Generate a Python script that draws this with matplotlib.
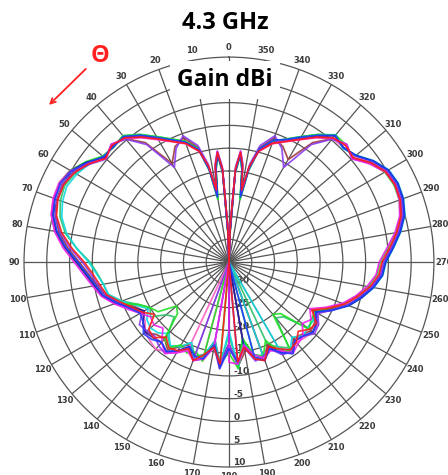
import numpy as np
import matplotlib.pyplot as plt
from matplotlib.lines import Line2D
from matplotlib.patches import FancyArrowPatch

# angles in degrees (0 at top, counter-clockwise)
angles = [0, 2, 4, 6, 8, 10, 12,
          15, 20, 25, 30, 35, 40, 45, 50, 55,
          60, 65, 70, 75, 80, 85, 90, 95, 100,
          105, 110, 115, 120, 125, 130, 135, 140, 145, 150,
          155, 160, 165, 170, 175, 180, 185, 190, 195, 200, 205,
          210, 215, 220, 225, 230, 235, 240, 245, 250, 255,
          260, 265, 270, 275, 280, 285, 290, 295, 300,
          305, 310, 315, 320, 325, 330, 335, 340, 345,
          348, 350, 352, 354, 356, 358, 360]

# gain (dBi), one list per measured curve
red = [-38, -27, -14.5, -10.8, -13.5, -19, -13.5,
       -9.8, -7.3, -5.8, -3.8, -1.5, 0.6, 1.3, 0.4, 2.6,
       4.2, 5.1, 5.0, 4.2, 2.3, -0.4, -3.2, -5, -6.2,
       -7.2, -9.5, -11.5, -13, -15, -12, -11.5, -13.5, -12, -12.5,
       -14, -12, -14, -16, -12.5, -38, -13, -16, -13, -12, -14.5,
       -13, -11.5, -12, -13.5, -12, -11.5, -14, -11, -8, -5.8,
       -3.6, -2, -1.4, 0.4, 2.4, 4.1, 5, 5.2, 4.7,
       3, 0.6, 1.2, 0.6, -1.5, -3.9, -5.8, -7.3, -9.8,
       -13.5, -19, -13.5, -10.8, -14.5, -27, -38]
green = [-38, -29, -15.5, -11.3, -14.5, -21, -14.5,
         -9.2, -6.8, -5.2, -3.2, -0.8, 1.2, 0.7, 1.2, 3.4,
         5.2, 6.0, 5.8, 5.2, 3.6, 1.2, -1.4, -3.5, -5,
         -6.2, -8.5, -13, -15, -16, -20, -19, -13, -12, -14,
         -13, -14, -12.5, -38, -13, -15, -11.5, -18, -14, -13, -16,
         -12, -11.5, -20, -19, -12, -13, -13, -11, -8.2, -6,
         -4, -2.4, -1.8, 0, 2.1, 3.9, 4.8, 5, 4.5,
         2.8, 0.4, 1.4, 1.4, -0.8, -3.2, -5.2, -6.8, -9.2,
         -14.5, -21, -14.5, -11.3, -15.5, -29, -38]
blue = [-38, -28.5, -15, -11.2, -14.2, -20.5, -14.2,
        -9.5, -7, -5.4, -3.4, -1.0, 1.0, 0.8, 1.0, 3.0,
        4.9, 5.8, 5.6, 4.9, 3.3, 0.9, -1.8, -3.8, -5.3,
        -6.5, -8.8, -11, -12.5, -12, -10.5, -11, -12, -11, -12.5,
        -14.5, -13, -13, -16.5, -11.5, -16, -13, -38, -13.5, -12, -14,
        -12, -10.5, -12.5, -12, -11, -11.5, -13, -10, -7.2, -5,
        -2.9, -1.3, -0.7, 1.1, 3.1, 4.8, 5.6, 5.8, 5.3,
        3.6, 1.3, 0.5, 1.3, -1.0, -3.3, -5.3, -6.5, -9.3,
        -14, -20.5, -14.2, -11.2, -15, -28.5, -38]
magenta = [-38, -27.5, -14.8, -10.6, -13.8, -19.5, -13.8,
           -9.7, -7.2, -5.7, -3.9, -1.6, 0.5, 1.5, 0.3, 2.8,
           5.0, 6.0, 6.0, 5.4, 3.9, 1.6, -1.0, -3.0, -4.6,
           -6, -8.2, -10.5, -12.5, -14, -13.5, -14.5, -12, -10.5, -12,
           -13.5, -12, -13, -16, -38, -13, -12.5, -16.5, -14, -12.5, -13.5,
           -12.5, -10.5, -11.5, -12, -14, -13, -14.5, -11.5, -8.5, -6.2,
           -4.2, -2.6, -2, -0.2, 2, 3.8, 4.8, 5.2, 4.6,
           2.6, 0.3, 1.5, 0.5, -1.6, -3.9, -5.7, -7.2, -9.7,
           -13.8, -19.5, -13.8, -10.6, -14.8, -27.5, -38]
cyan = [-38, -28, -15.2, -11.4, -14.4, -20.5, -14.4,
        -9.4, -6.9, -5.3, -3.3, -0.9, 1.1, 0.9, 0.9, 2.5,
        3.6, 4.3, 3.9, 3.0, 1.2, -1.5, -4.2, -5.8, -7.0,
        -7.6, -9.8, -12.5, -14.5, -13, -12.5, -13, -14.5, -12.5, -13.5,
        -15.5, -12.5, -14, -17.5, -12, -20, -11.5, -17, -13, -13.5, -38,
        -13, -11.5, -13.5, -12, -12.5, -12.5, -13, -10, -7, -4.8,
        -2.7, -1.1, -0.5, 1.3, 3.3, 5, 5.8, 6.0, 5.5,
        3.8, 1.5, 0.3, 1.5, -0.9, -3.3, -5.3, -6.9, -9.4,
        -14.4, -20.5, -14.4, -11.4, -15.2, -28, -38]
purple = [-38, -27, -14, -10.5, -13.2, -19, -13,
          -8.5, -5.5, -7.5, -11, -3.5, 0.2, 1.6, 0.2, 2.4,
          4.4, 5.3, 5.1, 4.4, 2.6, 0, -2.8, -4.6, -5.9,
          -7, -9.2, -11, -13, -11, -11.5, -12, -11, -10.5, -12.5,
          -14, -12, -38, -16, -12.5, -17, -12.5, -16, -12.5, -13, -14,
          -11.5, -11, -12.5, -12, -10.5, -11, -12.5, -10, -7.3, -5.2,
          -3.3, -1.7, -1.1, 0.7, 2.7, 4.4, 5.2, 5.4, 4.9,
          3.1, 0.2, 1.6, 0.2, -3.5, -11, -7.5, -5.5, -8.5,
          -13, -19, -13.2, -10.5, -14, -27, -38]
brown = [-38, -28, -14.6, -10.9, -13.8, -19.8, -13.8,
         -9, -6, -7, -10, -3, 0.4, 1.4, 0.5, 2.7,
         4.5, 5.4, 5.2, 4.5, 2.9, 0.5, -2.1, -4.1, -5.6,
         -6.9, -9, -12, -13.5, -12, -11, -12.5, -13, -11.5, -13.5,
         -15, -13, -13.5, -17.5, -12.5, -17, -12, -15, -38, -12.5, -15,
         -12.5, -11, -13, -12.5, -11.5, -12, -13.5, -10.5, -7.6, -5.4,
         -3.3, -1.7, -1.1, 0.7, 2.7, 4.4, 5.2, 5.4, 4.9,
         3.2, 0.5, 1.4, 0.4, -3, -9, -7, -6, -9,
         -13.8, -19.8, -13.8, -10.9, -14.6, -28, -38]
navy = [-38, -28, -15, -11, -14, -20, -14,
        -9.6, -7.1, -5.6, -3.7, -1.3, 0.7, 1.1, 0.7, 3.2,
        5.1, 6.0, 5.8, 5.1, 3.5, 1.1, -1.5, -3.5, -5,
        -6.3, -8.5, -11.5, -13.5, -12, -11, -11.5, -12, -11, -12.5,
        -14.5, -12, -13, -16.5, -12, -17, -38, -16.5, -13, -12, -14.5,
        -12, -10.5, -12.5, -12, -11, -11.5, -13, -10, -7, -4.8,
        -2.8, -1.2, -0.6, 1.2, 3.2, 4.9, 5.7, 5.9, 5.4,
        3.7, 1.4, 0.6, 1.2, -1.3, -3.7, -5.6, -7.1, -9.6,
        -14, -20, -14, -11, -15, -28, -38]
pink = [-38, -27.5, -14.5, -10.7, -13.7, -19.5, -13.7,
        -9.9, -7.4, -5.9, -4, -1.7, 0.4, 1.4, 0.5, 3.1,
        5.3, 6.2, 6.1, 5.4, 3.8, 1.4, -1.2, -3.2, -4.8,
        -6.1, -8.4, -11, -13, -12.5, -11, -10.5, -10, -11, -12,
        -14, -38, -12.5, -16, -11.5, -16.5, -12, -16, -13, -12.5, -14,
        -12, -11, -12, -11.5, -11, -11, -12.5, -10, -7.5, -5.2,
        -3.1, -1.5, -0.9, 0.9, 2.9, 4.6, 5.4, 5.6, 5.1,
        3.4, 1.1, 0.6, 0.4, -1.7, -4, -5.9, -7.4, -9.9,
        -13.7, -19.5, -13.7, -10.7, -14.5, -27.5, -38]
seagreen = [-38, -28.5, -15.4, -11.5, -14.6, -21, -14.6,
            -9.3, -6.8, -5.2, -3.2, -0.8, 1.2, 0.8, 1.1, 2.6,
            4.0, 4.8, 4.4, 3.4, 1.5, -1.5, -4.5, -6, -7,
            -7.5, -10, -13, -15, -14, -17, -18, -14, -12.5, -13.5,
            -15.5, -13, -14, -17, -12.5, -19, -12, -17.5, -14, -38, -15,
            -13.5, -12, -19, -18, -12.5, -12.5, -13.5, -10.5, -7.3, -5,
            -2.9, -1.3, -0.7, 1.1, 3.0, 4.6, 5.5, 5.8, 5.3,
            3.6, 1.3, 0.4, 1.3, -0.8, -3.2, -5.2, -6.8, -9.3,
            -14.6, -21, -14.6, -11.5, -15.4, -28.5, -38]

series = [(seagreen, '#2fbf6a'), (brown, '#9c3a3a'), (pink, '#ff5ec4'),
          (cyan, '#10d8e0'), (green, '#22e022'), (navy, '#1c1caa'),
          (purple, '#8a3cf0'), (magenta, '#f020f0'), (blue, '#1f3cff'),
          (red, '#ff1a1a')]

r_ticks = [-30, -25, -20, -15, -10, -5, 0, 5, 10]
theta_ticks = list(range(0, 360, 10))

r_min, r_max = -35, 10

fig = plt.figure(figsize=(4.48, 4.75), dpi=100)
ax = fig.add_axes([0.0536, 0.0168, 0.915, 0.863], projection='polar')
ax.set_theta_zero_location('N')
ax.set_theta_direction(1)
ax.set_ylim(r_min, r_max)

th = np.deg2rad(angles)
for vals, col in series:
    r = np.clip(np.array(vals, dtype=float), r_min, None)
    ax.plot(th, r, color=col, lw=1.25, alpha=0.9, zorder=3)

# grid
ax.set_yticks(r_ticks[:-1])
ax.set_yticklabels([])
ax.set_xticks(np.deg2rad(theta_ticks))
ax.set_xticklabels([str(t) for t in theta_ticks])
ax.tick_params(axis='x', length=0, pad=0, labelsize=6, labelcolor='#3a3a3a')
for lbl in ax.get_xticklabels():
    lbl.set_fontweight('bold')
ax.grid(True, color='#555555', lw=0.9)
ax.spines['polar'].set_color('#555555')
ax.spines['polar'].set_linewidth(0.9)

# radial labels along the 180 degree spoke
for v in r_ticks:
    ax.annotate(str(v), xy=(np.pi, v), xytext=(3, 3), textcoords='offset points',
                ha='left', va='center', fontsize=6.5, fontweight='bold',
                color='#3a3a3a', zorder=1)

fig.text(0.502, 0.952, '4.3 GHz', ha='center', va='center', fontsize=17,
         fontweight='bold', family=['Open Sans', 'DejaVu Sans'])
fig.text(0.502, 0.832, 'Gain dBi', ha='center', va='center', fontsize=16.5,
         fontweight='bold', family=['Open Sans', 'DejaVu Sans'],
         bbox=dict(boxstyle='square,pad=0.3', facecolor='white', edgecolor='none'))

# spell-check squiggle under "dBi"
sx = np.linspace(237, 275, 14) / 448
sy = 1 - (91 + np.tile([0, 1.5], 7)) / 475
fig.add_artist(Line2D(sx, sy, transform=fig.transFigure, color='#ff3030', lw=0.7))

fig.text(0.223, 0.882, 'Θ', ha='center', va='center', fontsize=17,
         fontweight='bold', color='#ff2020', family=['Open Sans', 'DejaVu Sans'])
fig.add_artist(FancyArrowPatch((0.196, 0.859), (0.105, 0.775), transform=fig.transFigure,
                               arrowstyle='->', mutation_scale=9, color='#ff2020', lw=1.3))

fig.savefig('out.png', dpi=100)
